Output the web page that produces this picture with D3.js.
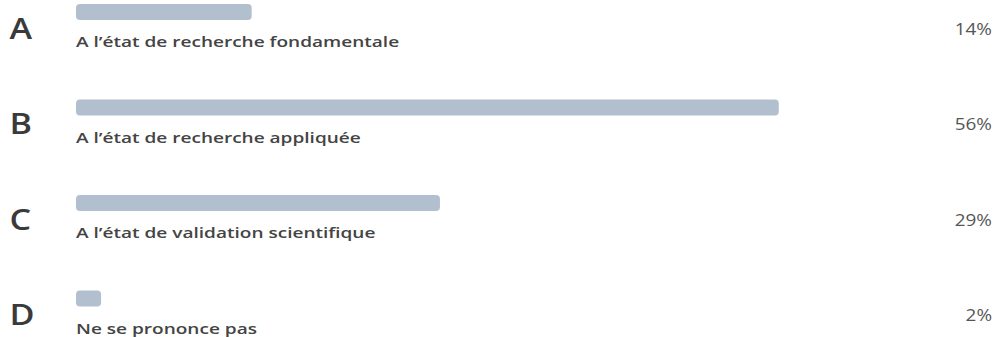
<!DOCTYPE html>
<meta charset="utf-8">
<style>
body { margin: 0; background: #fff; }
svg { display: block; font-family: "Open Sans", sans-serif; }
.letter { font-size: 28px; font-weight: 600; fill: #3a3a3a; }
.label { font-size: 15px; font-weight: 600; fill: #444; }
.pct { font-size: 15.5px; fill: #555; }
.bar { fill: #b2bfcf; }
</style>
<svg width="996" height="337"></svg>
<script src="https://d3js.org/d3.v7.min.js"></script>
<script>

var letters = ["A", "B", "C", "D"];
var labels = ["A l\u2019état de recherche fondamentale", "A l\u2019état de recherche appliquée",
              "A l\u2019état de validation scientifique", "Ne se prononce pas"];
var values = [14, 56, 29, 2];

var svg = d3.select("svg");

// rows every ~96px, bar 16px tall at top of each row
var y = d3.scaleBand()
    .domain(letters)
    .range([4, 386])
    .paddingInner(0);

var x = d3.scaleLinear()
    .domain([0, 100])
    .range([76, 76 + 1255]);

var row = svg.selectAll("g.row")
    .data(letters)
  .enter().append("g")
    .attr("class", "row")
    .attr("transform", function(d) { return "translate(0," + y(d) + ")"; });

row.append("rect")
    .attr("class", "bar")
    .attr("x", x(0))
    .attr("y", 0)
    .attr("height", 16)
    .attr("rx", 4)
    .attr("width", function(d, i) { return x(values[i]) - x(0); });

// the source text is drawn a bit wide, so stretch it horizontally
row.append("text")
    .attr("class", "letter")
    .attr("transform", "translate(9.5,34.5) scale(1.22,1)")
    .text(function(d) { return d; });

row.append("text")
    .attr("class", "label")
    .attr("transform", "translate(" + x(0) + ",43) scale(1.27,1)")
    .text(function(d, i) { return labels[i]; });

row.append("text")
    .attr("class", "pct")
    .attr("transform", "translate(992,30.5) scale(1.22,1)")
    .attr("text-anchor", "end")
    .text(function(d, i) { return values[i] + "%"; });

</script>
